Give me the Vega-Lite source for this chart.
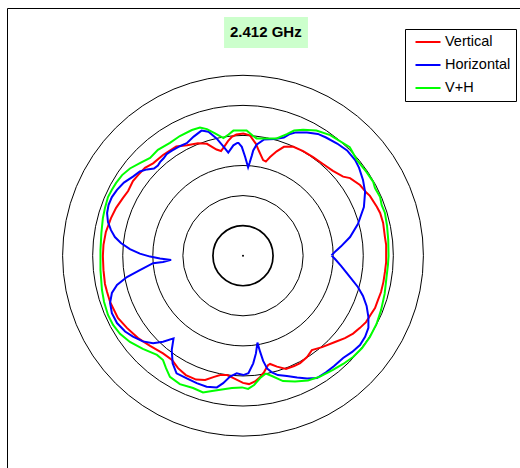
{
  "$schema": "https://vega.github.io/schema/vega-lite/v6.json",
  "width": 516,
  "height": 463,
  "autosize": {"type": "none"},
  "padding": {"left": 7, "top": 8, "right": -3, "bottom": -3},
  "background": "white",
  "config": {
    "view": {"stroke": "black", "strokeWidth": 1},
    "font": "Liberation Sans"
  },
  "data": {"values": [{"label": "2.412 GHz"}]},
  "datasets": {
    "rings": [{"ring": 20}, {"ring": 30}, {"ring": 40}, {"ring": 50}, {"ring": 60}],
    "inner": [{"ring": 10}],
    "pattern": [
      {"series":"Vertical","i":1,"x":47.6,"y":-0.1},{"series":"Vertical","i":2,"x":47.6,"y":3.6},{"series":"Vertical","i":3,"x":47.2,"y":6.2},{"series":"Vertical","i":4,"x":46.6,"y":10.9},{"series":"Vertical","i":5,"x":45.6,"y":14.2},{"series":"Vertical","i":6,"x":44.5,"y":16.3},{"series":"Vertical","i":7,"x":42.2,"y":19.9},{"series":"Vertical","i":8,"x":41.1,"y":20.9},{"series":"Vertical","i":9,"x":38.9,"y":23.5},{"series":"Vertical","i":10,"x":35.6,"y":25.8},
      {"series":"Vertical","i":11,"x":33.3,"y":26.3},{"series":"Vertical","i":12,"x":29.9,"y":28.2},{"series":"Vertical","i":13,"x":26.6,"y":30.5},{"series":"Vertical","i":14,"x":23.3,"y":32.8},{"series":"Vertical","i":15,"x":20.0,"y":34.8},{"series":"Vertical","i":16,"x":16.6,"y":36.3},{"series":"Vertical","i":17,"x":13.6,"y":36.2},{"series":"Vertical","i":18,"x":11.2,"y":34.7},{"series":"Vertical","i":19,"x":9.0,"y":32.8},{"series":"Vertical","i":20,"x":7.6,"y":31.3},
      {"series":"Vertical","i":21,"x":6.7,"y":31.8},{"series":"Vertical","i":22,"x":5.3,"y":34.8},{"series":"Vertical","i":23,"x":4.3,"y":37.2},{"series":"Vertical","i":24,"x":2.3,"y":40.0},{"series":"Vertical","i":25,"x":0.1,"y":40.6},{"series":"Vertical","i":26,"x":-2.2,"y":40.3},{"series":"Vertical","i":27,"x":-3.7,"y":39.5},{"series":"Vertical","i":28,"x":-5.0,"y":38.1},{"series":"Vertical","i":29,"x":-6.3,"y":36.2},{"series":"Vertical","i":30,"x":-7.3,"y":34.8},
      {"series":"Vertical","i":31,"x":-8.8,"y":35.3},{"series":"Vertical","i":32,"x":-12.0,"y":37.2},{"series":"Vertical","i":33,"x":-15.0,"y":37.4},{"series":"Vertical","i":34,"x":-18.6,"y":36.7},{"series":"Vertical","i":35,"x":-22.2,"y":36.3},{"series":"Vertical","i":36,"x":-26.6,"y":33.5},{"series":"Vertical","i":37,"x":-29.9,"y":30.7},{"series":"Vertical","i":38,"x":-32.6,"y":29.2},{"series":"Vertical","i":39,"x":-34.9,"y":26.8},{"series":"Vertical","i":40,"x":-36.6,"y":24.8},
      {"series":"Vertical","i":41,"x":-38.2,"y":21.5},{"series":"Vertical","i":42,"x":-39.9,"y":19.2},{"series":"Vertical","i":43,"x":-42.2,"y":15.9},{"series":"Vertical","i":44,"x":-43.9,"y":12.5},{"series":"Vertical","i":45,"x":-45.6,"y":7.9},{"series":"Vertical","i":46,"x":-46.4,"y":3.6},{"series":"Vertical","i":47,"x":-46.6,"y":-0.1},{"series":"Vertical","i":48,"x":-46.4,"y":-4.8},{"series":"Vertical","i":49,"x":-45.9,"y":-9.4},{"series":"Vertical","i":50,"x":-45.2,"y":-12.1},
      {"series":"Vertical","i":51,"x":-44.2,"y":-15.4},{"series":"Vertical","i":52,"x":-41.6,"y":-20.7},{"series":"Vertical","i":53,"x":-38.6,"y":-24.0},{"series":"Vertical","i":54,"x":-34.9,"y":-27.4},{"series":"Vertical","i":55,"x":-30.9,"y":-30.0},{"series":"Vertical","i":56,"x":-26.6,"y":-32.5},{"series":"Vertical","i":57,"x":-23.6,"y":-34.7},{"series":"Vertical","i":58,"x":-21.6,"y":-37.4},{"series":"Vertical","i":59,"x":-19.0,"y":-39.7},{"series":"Vertical","i":60,"x":-15.6,"y":-41.2},
      {"series":"Vertical","i":61,"x":-12.6,"y":-41.3},{"series":"Vertical","i":62,"x":-9.6,"y":-40.3},{"series":"Vertical","i":63,"x":-7.6,"y":-39.7},{"series":"Vertical","i":64,"x":-5.3,"y":-39.7},{"series":"Vertical","i":65,"x":-3.0,"y":-40.8},{"series":"Vertical","i":66,"x":0.0,"y":-42.3},{"series":"Vertical","i":67,"x":2.0,"y":-42.7},{"series":"Vertical","i":68,"x":4.0,"y":-41.8},{"series":"Vertical","i":69,"x":5.7,"y":-40.3},{"series":"Vertical","i":70,"x":7.0,"y":-38.7},
      {"series":"Vertical","i":71,"x":8.3,"y":-36.4},{"series":"Vertical","i":72,"x":9.0,"y":-36.0},{"series":"Vertical","i":73,"x":11.3,"y":-36.9},{"series":"Vertical","i":74,"x":14.3,"y":-37.7},{"series":"Vertical","i":75,"x":17.0,"y":-36.7},{"series":"Vertical","i":76,"x":19.0,"y":-35.7},{"series":"Vertical","i":77,"x":21.3,"y":-33.7},{"series":"Vertical","i":78,"x":22.9,"y":-31.4},{"series":"Vertical","i":79,"x":26.3,"y":-30.4},{"series":"Vertical","i":80,"x":30.6,"y":-28.7},
      {"series":"Vertical","i":81,"x":33.9,"y":-27.4},{"series":"Vertical","i":82,"x":36.6,"y":-25.9},{"series":"Vertical","i":83,"x":38.9,"y":-24.0},{"series":"Vertical","i":84,"x":40.9,"y":-22.1},{"series":"Vertical","i":85,"x":42.6,"y":-19.4},{"series":"Vertical","i":86,"x":43.9,"y":-17.4},{"series":"Vertical","i":87,"x":44.9,"y":-14.7},{"series":"Vertical","i":88,"x":45.9,"y":-12.1},{"series":"Vertical","i":89,"x":46.7,"y":-8.7},{"series":"Vertical","i":90,"x":47.2,"y":-5.4},
      {"series":"Vertical","i":91,"x":47.6,"y":-2.1},{"series":"Vertical","i":92,"x":47.6,"y":-0.1},

      {"series":"Horizontal","i":1,"x":29.4,"y":0.1},{"series":"Horizontal","i":2,"x":30.9,"y":1.6},{"series":"Horizontal","i":3,"x":32.6,"y":3.1},{"series":"Horizontal","i":4,"x":35.6,"y":6.2},{"series":"Horizontal","i":5,"x":38.2,"y":10.5},{"series":"Horizontal","i":6,"x":40.2,"y":16.2},{"series":"Horizontal","i":7,"x":40.6,"y":21.2},{"series":"Horizontal","i":8,"x":39.9,"y":25.2},{"series":"Horizontal","i":9,"x":38.6,"y":29.2},{"series":"Horizontal","i":10,"x":37.3,"y":31.8},
      {"series":"Horizontal","i":11,"x":34.6,"y":35.0},{"series":"Horizontal","i":12,"x":31.3,"y":37.3},{"series":"Horizontal","i":13,"x":27.6,"y":39.3},{"series":"Horizontal","i":14,"x":24.9,"y":40.5},{"series":"Horizontal","i":15,"x":21.3,"y":41.0},{"series":"Horizontal","i":16,"x":17.6,"y":41.0},{"series":"Horizontal","i":17,"x":15.6,"y":40.5},{"series":"Horizontal","i":18,"x":13.6,"y":39.3},{"series":"Horizontal","i":19,"x":10.6,"y":38.8},{"series":"Horizontal","i":20,"x":6.9,"y":38.6},
      {"series":"Horizontal","i":21,"x":4.5,"y":36.9},{"series":"Horizontal","i":22,"x":3.4,"y":35.0},{"series":"Horizontal","i":23,"x":2.9,"y":33.2},{"series":"Horizontal","i":24,"x":2.2,"y":30.9},{"series":"Horizontal","i":25,"x":1.7,"y":29.4},{"series":"Horizontal","i":26,"x":0.7,"y":32.9},{"series":"Horizontal","i":27,"x":-0.4,"y":36.2},{"series":"Horizontal","i":28,"x":-1.5,"y":37.5},{"series":"Horizontal","i":29,"x":-1.9,"y":37.5},{"series":"Horizontal","i":30,"x":-3.2,"y":36.7},
      {"series":"Horizontal","i":31,"x":-4.9,"y":34.3},{"series":"Horizontal","i":32,"x":-6.4,"y":36.2},{"series":"Horizontal","i":33,"x":-8.8,"y":39.0},{"series":"Horizontal","i":34,"x":-11.5,"y":41.2},{"series":"Horizontal","i":35,"x":-13.8,"y":41.6},{"series":"Horizontal","i":36,"x":-16.4,"y":39.6},{"series":"Horizontal","i":37,"x":-18.7,"y":37.4},{"series":"Horizontal","i":38,"x":-21.0,"y":36.4},{"series":"Horizontal","i":39,"x":-23.5,"y":35.0},{"series":"Horizontal","i":40,"x":-24.3,"y":34.5},
      {"series":"Horizontal","i":41,"x":-25.4,"y":33.8},{"series":"Horizontal","i":42,"x":-26.4,"y":32.4},{"series":"Horizontal","i":43,"x":-27.6,"y":31.1},{"series":"Horizontal","i":44,"x":-28.3,"y":30.0},{"series":"Horizontal","i":45,"x":-29.6,"y":29.0},{"series":"Horizontal","i":46,"x":-31.9,"y":28.7},{"series":"Horizontal","i":47,"x":-34.3,"y":28.0},{"series":"Horizontal","i":48,"x":-36.6,"y":26.3},{"series":"Horizontal","i":49,"x":-39.6,"y":24.3},{"series":"Horizontal","i":50,"x":-41.9,"y":21.9},
      {"series":"Horizontal","i":51,"x":-43.6,"y":19.5},{"series":"Horizontal","i":52,"x":-44.7,"y":16.9},{"series":"Horizontal","i":53,"x":-45.2,"y":14.2},{"series":"Horizontal","i":54,"x":-44.9,"y":11.2},{"series":"Horizontal","i":55,"x":-43.9,"y":8.5},{"series":"Horizontal","i":56,"x":-42.6,"y":6.2},{"series":"Horizontal","i":57,"x":-40.6,"y":4.2},{"series":"Horizontal","i":58,"x":-37.6,"y":2.2},{"series":"Horizontal","i":59,"x":-34.3,"y":0.7},{"series":"Horizontal","i":60,"x":-30.9,"y":-0.3},
      {"series":"Horizontal","i":61,"x":-27.6,"y":-0.9},{"series":"Horizontal","i":62,"x":-23.9,"y":-1.4},{"series":"Horizontal","i":63,"x":-26.6,"y":-2.1},{"series":"Horizontal","i":64,"x":-29.9,"y":-2.5},{"series":"Horizontal","i":65,"x":-34.3,"y":-4.8},{"series":"Horizontal","i":66,"x":-38.6,"y":-7.1},{"series":"Horizontal","i":67,"x":-41.9,"y":-9.7},{"series":"Horizontal","i":68,"x":-43.6,"y":-12.4},{"series":"Horizontal","i":69,"x":-44.2,"y":-15.7},{"series":"Horizontal","i":70,"x":-43.6,"y":-19.1},
      {"series":"Horizontal","i":71,"x":-41.9,"y":-22.4},{"series":"Horizontal","i":72,"x":-39.2,"y":-25.2},{"series":"Horizontal","i":73,"x":-36.6,"y":-26.9},{"series":"Horizontal","i":74,"x":-33.3,"y":-28.5},{"series":"Horizontal","i":75,"x":-29.9,"y":-29.1},{"series":"Horizontal","i":76,"x":-26.6,"y":-28.6},{"series":"Horizontal","i":77,"x":-23.1,"y":-27.5},{"series":"Horizontal","i":78,"x":-23.7,"y":-31.4},{"series":"Horizontal","i":79,"x":-23.4,"y":-35.8},{"series":"Horizontal","i":80,"x":-22.1,"y":-39.1},
      {"series":"Horizontal","i":81,"x":-18.7,"y":-40.8},{"series":"Horizontal","i":82,"x":-15.4,"y":-42.4},{"series":"Horizontal","i":83,"x":-12.1,"y":-43.6},{"series":"Horizontal","i":84,"x":-8.7,"y":-43.8},{"series":"Horizontal","i":85,"x":-6.6,"y":-42.4},{"series":"Horizontal","i":86,"x":-4.3,"y":-40.2},{"series":"Horizontal","i":87,"x":-2.1,"y":-39.1},{"series":"Horizontal","i":88,"x":0.1,"y":-39.7},{"series":"Horizontal","i":89,"x":1.8,"y":-39.1},{"series":"Horizontal","i":90,"x":3.4,"y":-35.8},
      {"series":"Horizontal","i":91,"x":4.3,"y":-32.5},{"series":"Horizontal","i":92,"x":4.8,"y":-28.9},{"series":"Horizontal","i":93,"x":5.7,"y":-32.0},{"series":"Horizontal","i":94,"x":6.7,"y":-35.0},{"series":"Horizontal","i":95,"x":8.0,"y":-37.5},{"series":"Horizontal","i":96,"x":9.6,"y":-38.8},{"series":"Horizontal","i":97,"x":11.6,"y":-39.7},{"series":"Horizontal","i":98,"x":14.6,"y":-40.0},{"series":"Horizontal","i":99,"x":18.0,"y":-40.5},{"series":"Horizontal","i":100,"x":21.3,"y":-40.8},
      {"series":"Horizontal","i":101,"x":24.6,"y":-40.7},{"series":"Horizontal","i":102,"x":27.6,"y":-38.8},{"series":"Horizontal","i":103,"x":30.3,"y":-36.7},{"series":"Horizontal","i":104,"x":33.3,"y":-34.0},{"series":"Horizontal","i":105,"x":36.3,"y":-32.0},{"series":"Horizontal","i":106,"x":38.9,"y":-29.7},{"series":"Horizontal","i":107,"x":40.6,"y":-27.0},{"series":"Horizontal","i":108,"x":41.7,"y":-24.0},{"series":"Horizontal","i":109,"x":41.7,"y":-20.4},{"series":"Horizontal","i":110,"x":41.1,"y":-16.7},
      {"series":"Horizontal","i":111,"x":39.9,"y":-13.4},{"series":"Horizontal","i":112,"x":38.2,"y":-10.4},{"series":"Horizontal","i":113,"x":35.6,"y":-7.1},{"series":"Horizontal","i":114,"x":32.6,"y":-3.4},{"series":"Horizontal","i":115,"x":30.6,"y":-1.1},{"series":"Horizontal","i":116,"x":29.4,"y":0.1},

      {"series":"V+H","i":1,"x":48.4,"y":-0.1},{"series":"V+H","i":2,"x":48.3,"y":5.2},{"series":"V+H","i":3,"x":47.9,"y":9.9},{"series":"V+H","i":4,"x":47.2,"y":14.2},{"series":"V+H","i":5,"x":46.1,"y":16.9},{"series":"V+H","i":6,"x":45.6,"y":19.5},{"series":"V+H","i":7,"x":43.9,"y":22.5},{"series":"V+H","i":8,"x":43.3,"y":24.5},{"series":"V+H","i":9,"x":41.1,"y":27.8},{"series":"V+H","i":10,"x":37.9,"y":31.8},
      {"series":"V+H","i":11,"x":35.5,"y":36.1},{"series":"V+H","i":12,"x":29.0,"y":40.1},{"series":"V+H","i":13,"x":24.4,"y":41.6},{"series":"V+H","i":14,"x":20.0,"y":41.9},{"series":"V+H","i":15,"x":17.0,"y":41.6},{"series":"V+H","i":16,"x":14.6,"y":40.4},{"series":"V+H","i":17,"x":11.2,"y":39.0},{"series":"V+H","i":18,"x":8.0,"y":39.0},{"series":"V+H","i":19,"x":4.5,"y":39.0},{"series":"V+H","i":20,"x":3.4,"y":39.8},
      {"series":"V+H","i":21,"x":1.2,"y":41.6},{"series":"V+H","i":22,"x":-3.2,"y":41.6},{"series":"V+H","i":23,"x":-4.8,"y":40.3},{"series":"V+H","i":24,"x":-6.5,"y":39.1},{"series":"V+H","i":25,"x":-9.3,"y":40.7},{"series":"V+H","i":26,"x":-12.0,"y":42.1},{"series":"V+H","i":27,"x":-14.3,"y":42.6},{"series":"V+H","i":28,"x":-17.0,"y":41.8},{"series":"V+H","i":29,"x":-21.0,"y":39.8},{"series":"V+H","i":30,"x":-24.3,"y":37.5},
      {"series":"V+H","i":31,"x":-28.3,"y":35.2},{"series":"V+H","i":32,"x":-30.9,"y":32.5},{"series":"V+H","i":33,"x":-34.3,"y":30.8},{"series":"V+H","i":34,"x":-37.6,"y":29.0},{"series":"V+H","i":35,"x":-40.2,"y":26.8},{"series":"V+H","i":36,"x":-42.2,"y":24.2},{"series":"V+H","i":37,"x":-43.6,"y":21.9},{"series":"V+H","i":38,"x":-44.9,"y":19.5},{"series":"V+H","i":39,"x":-45.9,"y":15.9},{"series":"V+H","i":40,"x":-46.6,"y":12.5},
      {"series":"V+H","i":41,"x":-47.1,"y":7.5},{"series":"V+H","i":42,"x":-47.4,"y":1.9},{"series":"V+H","i":43,"x":-47.4,"y":-4.8},{"series":"V+H","i":44,"x":-46.9,"y":-11.4},{"series":"V+H","i":45,"x":-46.2,"y":-15.4},{"series":"V+H","i":46,"x":-44.9,"y":-19.7},{"series":"V+H","i":47,"x":-43.2,"y":-23.0},{"series":"V+H","i":48,"x":-40.9,"y":-26.0},{"series":"V+H","i":49,"x":-37.6,"y":-28.7},{"series":"V+H","i":50,"x":-33.3,"y":-31.0},
      {"series":"V+H","i":51,"x":-28.6,"y":-33.0},{"series":"V+H","i":52,"x":-26.6,"y":-34.7},{"series":"V+H","i":53,"x":-25.6,"y":-37.4},{"series":"V+H","i":54,"x":-24.3,"y":-40.3},{"series":"V+H","i":55,"x":-21.0,"y":-42.7},{"series":"V+H","i":56,"x":-16.6,"y":-44.0},{"series":"V+H","i":57,"x":-13.3,"y":-45.5},{"series":"V+H","i":58,"x":-10.3,"y":-45.0},{"series":"V+H","i":59,"x":-7.0,"y":-44.5},{"series":"V+H","i":60,"x":-3.7,"y":-44.0},
      {"series":"V+H","i":61,"x":-0.3,"y":-43.8},{"series":"V+H","i":62,"x":1.7,"y":-44.3},{"series":"V+H","i":63,"x":3.7,"y":-43.0},{"series":"V+H","i":64,"x":5.7,"y":-40.7},{"series":"V+H","i":65,"x":7.6,"y":-39.2},{"series":"V+H","i":66,"x":9.6,"y":-40.0},{"series":"V+H","i":67,"x":13.3,"y":-41.7},{"series":"V+H","i":68,"x":17.3,"y":-41.8},{"series":"V+H","i":69,"x":21.6,"y":-41.5},{"series":"V+H","i":70,"x":25.6,"y":-40.2},
      {"series":"V+H","i":71,"x":29.9,"y":-38.0},{"series":"V+H","i":72,"x":33.3,"y":-36.0},{"series":"V+H","i":73,"x":36.6,"y":-33.7},{"series":"V+H","i":74,"x":39.6,"y":-30.7},{"series":"V+H","i":75,"x":42.2,"y":-27.0},{"series":"V+H","i":76,"x":44.4,"y":-22.7},{"series":"V+H","i":77,"x":45.9,"y":-18.1},{"series":"V+H","i":78,"x":47.1,"y":-12.7},{"series":"V+H","i":79,"x":47.7,"y":-7.4},{"series":"V+H","i":80,"x":48.2,"y":-3.1},
      {"series":"V+H","i":81,"x":48.4,"y":-0.1}
    ]
  },
  "layer": [
    {
      "mark": {"type": "rect", "color": "#ccffcc"},
      "encoding": {
        "x": {"datum": -6.3, "type": "quantitative", "scale": {"domain": [-78.48, 93.11], "nice": false, "zero": false}, "axis": null},
        "x2": {"datum": 21.6},
        "y": {"datum": 79.4, "type": "quantitative", "scale": {"domain": [-71.6, 82.37], "nice": false, "zero": false}, "axis": null},
        "y2": {"datum": 69.1}
      }
    },
    {
      "mark": {"type": "text", "font": "Liberation Sans", "fontWeight": "bold", "fontSize": 15, "color": "black", "align": "center", "baseline": "middle"},
      "encoding": {
        "text": {"field": "label", "type": "nominal"},
        "x": {"datum": 7.6, "type": "quantitative", "scale": {"domain": [-78.48, 93.11], "nice": false, "zero": false}, "axis": null},
        "y": {"datum": 74.3, "type": "quantitative", "scale": {"domain": [-71.6, 82.37], "nice": false, "zero": false}, "axis": null}
      }
    },
    {
      "data": {"name": "rings"},
      "mark": {"type": "point", "shape": "circle", "filled": false, "stroke": "black", "strokeWidth": 1, "opacity": 1},
      "encoding": {
        "x": {"datum": 0, "type": "quantitative", "scale": {"domain": [-78.48, 93.11], "nice": false, "zero": false}, "axis": null},
        "y": {"datum": 0, "type": "quantitative", "scale": {"domain": [-71.6, 82.37], "nice": false, "zero": false}, "axis": null},
        "size": {"field": "ring", "type": "quantitative", "scale": {"type": "pow", "exponent": 2, "domain": [0, 60], "range": [0, 130176], "zero": true}, "legend": null}
      }
    },
    {
      "data": {"name": "inner"},
      "mark": {"type": "point", "shape": "circle", "filled": false, "stroke": "black", "strokeWidth": 1.7, "opacity": 1},
      "encoding": {
        "x": {"datum": 0, "type": "quantitative", "scale": {"domain": [-78.48, 93.11], "nice": false, "zero": false}, "axis": null},
        "y": {"datum": 0, "type": "quantitative", "scale": {"domain": [-71.6, 82.37], "nice": false, "zero": false}, "axis": null},
        "size": {"field": "ring", "type": "quantitative", "scale": {"type": "pow", "exponent": 2, "domain": [0, 60], "range": [0, 130176], "zero": true}, "legend": null}
      }
    },
    {
      "mark": {"type": "point", "shape": "circle", "filled": true, "color": "black", "size": 4, "opacity": 1},
      "encoding": {
        "x": {"datum": 0, "type": "quantitative", "scale": {"domain": [-78.48, 93.11], "nice": false, "zero": false}, "axis": null},
        "y": {"datum": 0, "type": "quantitative", "scale": {"domain": [-71.6, 82.37], "nice": false, "zero": false}, "axis": null}
      }
    },
    {
      "data": {"name": "pattern"},
      "mark": {"type": "line", "strokeWidth": 2, "interpolate": "linear"},
      "encoding": {
        "x": {"field": "x", "type": "quantitative", "scale": {"domain": [-78.48, 93.11], "nice": false, "zero": false}, "axis": null},
        "y": {"field": "y", "type": "quantitative", "scale": {"domain": [-71.6, 82.37], "nice": false, "zero": false}, "axis": null},
        "order": {"field": "i", "type": "quantitative"},
        "color": {
          "field": "series", "type": "nominal",
          "scale": {"domain": ["Vertical", "Horizontal", "V+H"], "range": ["#ff0000", "#0000ff", "#00ff00"]},
          "legend": {
            "title": null, "orient": "none", "legendX": 398, "legendY": 21,
            "strokeColor": "black", "fillColor": "white", "padding": 5,
            "clipHeight": 16, "rowPadding": 7,
            "symbolType": "stroke", "symbolSize": 625, "symbolStrokeWidth": 2, "symbolOffset": 4.5,
            "labelFont": "Liberation Sans", "labelFontSize": 14.5, "labelColor": "black", "labelOffset": 3.5
          }
        }
      }
    }
  ]
}
